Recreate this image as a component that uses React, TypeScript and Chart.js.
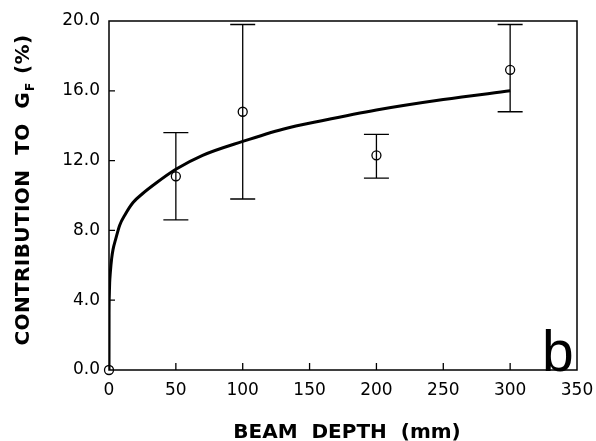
import React, { useEffect, useRef } from "react";
import { Chart, registerables } from "chart.js";
Chart.register(...registerables);

// Fitted curve
const curveX = [0, 0.05, 0.2, 0.5, 1, 2, 3, 5, 8, 12, 18, 25, 35, 50, 70, 100, 130, 160, 200, 250, 300];
const curveY = [0, 3.2, 4.2, 5.0, 5.6, 6.4, 6.9, 7.5, 8.3, 8.9, 9.6, 10.1, 10.7, 11.5, 12.3, 13.1, 13.8, 14.3, 14.9, 15.5, 16.0];

// Measured points with error bars
const depths = [0, 50, 100, 200, 300];
const contribution = [0, 11.1, 14.8, 12.3, 17.2];
const errLow = [null, 8.6, 9.8, 11.0, 14.8];
const errHigh = [null, 13.6, 19.8, 13.5, 19.8];

// Axis ticks
const xTickValues = [50, 100, 150, 200, 250, 300];
const yTickValues = [4, 8, 12, 16];

const xTitle = "BEAM  DEPTH  (mm)";
const yTitleMain = "CONTRIBUTION  TO  G";
const yTitleSub = "F";
const yTitleEnd = " (%)";
const panelLabel = "b";

export default function App() {
  const ref = useRef<HTMLCanvasElement>(null);

  useEffect(() => {
    const canvas = ref.current;
    if (!canvas) return;

    const custom = {
      id: "custom",
      afterDatasetsDraw(chart: any) {
        const { ctx, scales } = chart;
        const xs = scales.x;
        const ys = scales.y;
        ctx.save();
        ctx.strokeStyle = "#000";
        ctx.lineWidth = 1.3;
        for (let i = 0; i < depths.length; i++) {
          const lo = errLow[i];
          const hi = errHigh[i];
          if (lo == null || hi == null) continue;
          const px = xs.getPixelForValue(depths[i]);
          const pLo = ys.getPixelForValue(lo);
          const pHi = ys.getPixelForValue(hi);
          ctx.beginPath();
          ctx.moveTo(px, pLo);
          ctx.lineTo(px, pHi);
          ctx.moveTo(px - 12.5, pLo);
          ctx.lineTo(px + 12.5, pLo);
          ctx.moveTo(px - 12.5, pHi);
          ctx.lineTo(px + 12.5, pHi);
          ctx.stroke();
        }
        ctx.restore();
      },
      afterDraw(chart: any) {
        const { ctx, chartArea, scales } = chart;
        const xs = scales.x;
        const ys = scales.y;
        const { left, right, top, bottom } = chartArea;
        ctx.save();
        // frame
        ctx.strokeStyle = "#000";
        ctx.lineWidth = 1.5;
        ctx.strokeRect(left, top, right - left, bottom - top);
        // inner ticks
        ctx.lineWidth = 1.3;
        ctx.beginPath();
        for (const v of yTickValues) {
          const py = ys.getPixelForValue(v);
          ctx.moveTo(left, py);
          ctx.lineTo(left + 6, py);
        }
        for (const v of xTickValues) {
          const px = xs.getPixelForValue(v);
          ctx.moveTo(px, bottom);
          ctx.lineTo(px, bottom - 7);
        }
        ctx.stroke();

        ctx.fillStyle = "#000";
        // x title
        ctx.font = "bold 20px 'DejaVu Sans'";
        ctx.textAlign = "center";
        ctx.textBaseline = "alphabetic";
        ctx.fillText(xTitle, 347, 438);

        // y title with subscript
        ctx.save();
        ctx.translate(28.5, 190);
        ctx.rotate(-Math.PI / 2);
        ctx.textAlign = "left";
        (ctx as any).letterSpacing = "0.4px";
        const mainFont = "bold 20px 'DejaVu Sans'";
        const subFont = "bold 12px 'DejaVu Sans'";
        ctx.font = mainFont;
        const w1 = ctx.measureText(yTitleMain).width;
        const w3 = ctx.measureText(yTitleEnd).width;
        ctx.font = subFont;
        const w2 = ctx.measureText(yTitleSub).width;
        const total = w1 + w2 + w3 + 2;
        let cx = -total / 2;
        ctx.font = mainFont;
        ctx.fillText(yTitleMain, cx, 0);
        cx += w1 + 1;
        ctx.font = subFont;
        ctx.fillText(yTitleSub, cx, 5);
        cx += w2 + 1;
        ctx.font = mainFont;
        ctx.fillText(yTitleEnd, cx, 0);
        ctx.restore();

        // panel label
        ctx.font = "57px 'Liberation Sans'";
        ctx.textAlign = "left";
        ctx.textBaseline = "alphabetic";
        ctx.fillText(panelLabel, 542, 371);
        ctx.restore();
      },
    };

    const chart = new Chart(canvas, {
      type: "scatter",
      data: {
        datasets: [
          {
            data: curveX.map((x, i) => ({ x, y: curveY[i] })),
            showLine: true,
            borderColor: "#000",
            borderWidth: 3,
            pointRadius: 0,
            cubicInterpolationMode: "monotone",
            fill: false,
          },
          {
            data: depths.map((x, i) => ({ x, y: contribution[i] })),
            showLine: false,
            pointRadius: 4.5,
            pointBorderWidth: 1.3,
            pointBorderColor: "#000",
            pointBackgroundColor: "rgba(0,0,0,0)",
            clip: false,
          } as any,
        ],
      },
      options: {
        responsive: false,
        animation: false,
        layout: { padding: { left: 0, right: 19, top: 21, bottom: 0 } },
        plugins: { legend: { display: false }, tooltip: { enabled: false } },
        scales: {
          x: {
            type: "linear",
            min: 0,
            max: 350,
            grid: { display: false, drawTicks: false, tickLength: 0 },
            border: { display: false },
            ticks: {
              stepSize: 50,
              padding: 10,
              color: "#000",
              maxRotation: 0,
              autoSkip: false,
              font: { family: "'DejaVu Sans'", size: 17 },
            },
            afterFit: (s: any) => {
              s.height = 71;
              s.paddingLeft = 0;
              s.paddingRight = 0;
            },
          },
          y: {
            min: 0,
            max: 20,
            grid: { display: false, drawTicks: false, tickLength: 0 },
            border: { display: false },
            ticks: {
              stepSize: 4,
              padding: 9,
              color: "#000",
              font: { family: "'DejaVu Sans'", size: 17 },
              callback: (v: any) => Number(v).toFixed(1),
            },
            afterFit: (s: any) => {
              s.width = 109;
              s.paddingTop = 0;
              s.paddingBottom = 0;
            },
          },
        },
      },
      plugins: [custom],
    } as any);

    return () => chart.destroy();
  }, []);

  return (
    <div style={{ position: "fixed", left: 0, top: 0, width: 596, height: 441, background: "#fff" }}>
      <canvas ref={ref} width={596} height={441} style={{ width: 596, height: 441, display: "block" }} />
    </div>
  );
}
